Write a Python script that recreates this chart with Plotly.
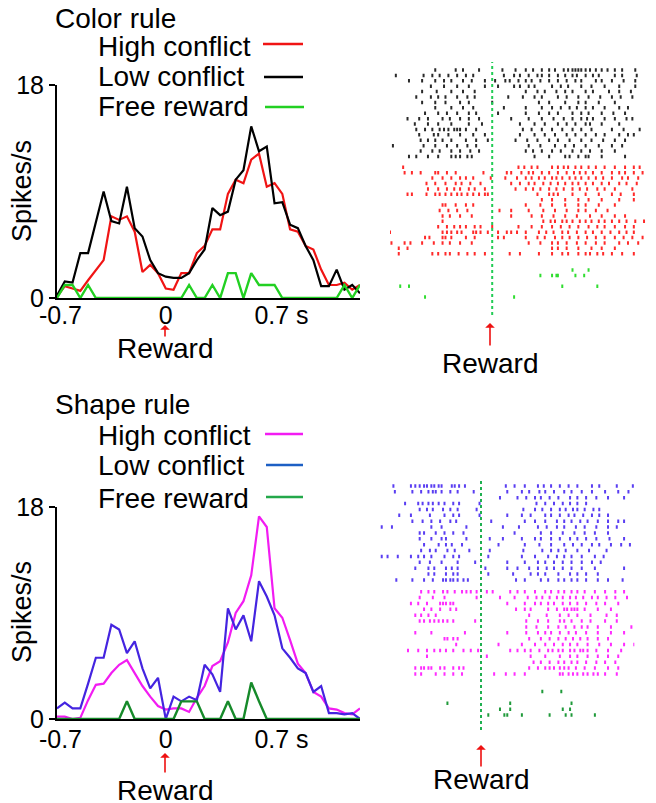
import plotly.graph_objects as go

# The page body adds an 8px margin, so the figure is drawn 8px in from the
# window's top-left corner; pixel layout below is expressed in window pixels.
WIN_W, WIN_H, BODY = 656, 803, 8
W, H = WIN_W - BODY, WIN_H - BODY

# ---------------- PSTH data (spikes/s), 50 ms bins ----------------
time_s = [-0.70, -0.65, -0.60, -0.55, -0.50, -0.45, -0.40, -0.35, -0.30, -0.25,
          -0.20, -0.15, -0.10, -0.05, 0.00, 0.05, 0.10, 0.15, 0.20, 0.25,
          0.30, 0.35, 0.40, 0.45, 0.50, 0.55, 0.60, 0.65, 0.70, 0.75,
          0.80, 0.85, 0.90, 0.95, 1.00, 1.05, 1.10, 1.15, 1.20, 1.25]

color_high = [0.1, 1.0, 0.8, 0.6, 1.5, 2.4, 3.2, 6.9, 6.6, 6.9,
              5.6, 2.2, 2.8, 2.1, 0.8, 0.7, 2.1, 2.1, 3.8, 4.4,
              5.8, 5.8, 8.8, 10.0, 9.7, 11.7, 12.2, 9.4, 9.7, 8.8,
              5.8, 5.6, 4.4, 4.1, 2.4, 1.1, 1.1, 1.3, 0.7, 1.1]
color_low = [0.2, 1.4, 1.3, 3.8, 3.8, 6.5, 9.0, 6.5, 6.3, 9.4,
             5.9, 5.2, 3.2, 2.1, 1.8, 1.7, 1.7, 2.1, 3.2, 4.1,
             7.6, 7.0, 7.3, 10.0, 10.8, 14.5, 12.4, 12.8, 8.0, 8.1,
             6.2, 5.9, 4.4, 3.2, 1.0, 1.0, 2.4, 0.7, 1.1, 0.4]
color_free = [0, 1.1, 1.1, 0, 1.1, 0, 0, 0, 0, 0,
              0, 0, 0, 0, 0, 0, 0, 1.1, 0, 0,
              1.1, 0, 2.1, 2.1, 0, 2.1, 1.1, 1.1, 1.1, 0,
              0, 0, 0, 0, 0, 0, 0, 1.1, 0, 1.1]

shape_high = [0.2, 0.2, 0.0, 0.1, 1.6, 2.9, 3.0, 3.9, 4.6, 5.0,
              3.9, 2.8, 1.9, 1.1, 0.8, 0.9, 0.9, 0.6, 1.8, 2.8,
              4.5, 4.9, 6.5, 9.0, 10.0, 12.2, 17.2, 16.3, 9.4, 8.6,
              6.7, 4.7, 3.9, 2.3, 1.9, 0.9, 0.8, 0.5, 0.4, 0.9]
shape_low = [0.9, 1.4, 0.9, 0.9, 3.0, 5.2, 5.2, 8.0, 7.6, 5.6,
             6.6, 4.3, 2.6, 3.5, 0.0, 1.9, 1.5, 1.9, 1.6, 4.6,
             3.8, 2.3, 9.4, 7.6, 8.8, 6.6, 11.7, 10.4, 8.8, 6.0,
             5.2, 4.3, 3.9, 2.3, 2.8, 0.5, 0.5, 0.4, 0.5, 0.0]
shape_free = [0, 0, 0, 0, 0, 0, 0, 0, 0, 1.5,
              0, 0, 0, 0, 0, 0, 1.5, 1.5, 1.5, 0,
              0, 0, 1.5, 0, 0, 3.1, 1.5, 0, 0, 0,
              0, 0, 0, 0, 0, 0, 0, 0, 0, 0]

x_tick_vals = [-0.7, 0, 0.7]
x_tick_text = ["\u00a0-0.7", "0", "\u00a0\u00a00.7 s"]
y_tick_vals = [0, 18]
y_tick_text = ["0", "18"]

# ---------------- Raster data (spike times in s, one list per trial) ----------------
raster_color_low = [
    [-0.39, -0.25, -0.20, -0.09, 0.07, 0.16, 0.23, 0.28, 0.34, 0.39, 0.43, 0.49, 0.52, 0.55, 0.57, 0.59, 0.61, 0.64, 0.67, 0.71, 0.75, 0.79, 0.84, 0.89, 0.98],
    [-0.66, -0.47, -0.41, -0.36, -0.30, -0.24, -0.18, -0.13, 0.08, 0.15, 0.19, 0.25, 0.31, 0.34, 0.39, 0.45, 0.50, 0.55, 0.58, 0.64, 0.69, 0.73, 0.84, 0.89, 0.99],
    [-0.57, -0.48, -0.39, -0.33, -0.28, -0.20, -0.14, -0.05, 0.02, 0.09, 0.12, 0.18, 0.23, 0.27, 0.33, 0.39, 0.45, 0.51, 0.57, 0.61, 0.71, 0.75, 0.82, 0.90, 0.98],
    [-0.42, -0.33, -0.24, -0.16, -0.05, 0.04, 0.15, 0.19, 0.25, 0.29, 0.41, 0.47, 0.52, 0.61, 0.68, 0.77, 0.87, 0.98],
    [-0.48, -0.38, -0.28, -0.20, -0.12, 0.23, 0.31, 0.36, 0.44, 0.50, 0.55, 0.64, 0.69, 0.80, 0.87, 0.95],
    [-0.52, -0.42, -0.37, -0.32, -0.24, -0.17, -0.12, 0.11, 0.21, 0.29, 0.34, 0.45, 0.51, 0.59, 0.66, 0.74, 0.82, 0.88, 0.96],
    [-0.48, -0.39, -0.32, -0.22, -0.16, 0.00, 0.32, 0.39, 0.50, 0.59, 0.64, 0.73, 0.84],
    [-0.39, -0.28, -0.20, -0.13, 0.08, 0.23, 0.34, 0.41, 0.47, 0.53, 0.58, 0.64, 0.69, 0.77, 0.87, 0.93],
    [-0.46, -0.37, -0.31, -0.24, -0.16, -0.11, 0.04, 0.23, 0.32, 0.39, 0.45, 0.55, 0.61, 0.66, 0.75, 0.83, 0.91],
    [-0.58, -0.50, -0.44, -0.34, -0.29, -0.22, -0.16, -0.09, 0.13, 0.25, 0.34, 0.42, 0.49, 0.55, 0.61, 0.65, 0.69, 0.77, 0.84, 0.92, 0.96],
    [-0.53, -0.44, -0.37, -0.28, -0.16, -0.07, 0.19, 0.29, 0.36, 0.45, 0.51, 0.57, 0.64, 0.67, 0.75, 0.87],
    [-0.52, -0.46, -0.41, -0.36, -0.33, -0.30, -0.26, -0.24, -0.22, -0.18, -0.11, 0.21, 0.27, 0.34, 0.41, 0.48, 0.55, 0.61, 0.68, 0.82, 0.90, 1.01],
    [-0.50, -0.40, -0.37, -0.30, -0.22, -0.13, -0.05, 0.19, 0.29, 0.36, 0.43, 0.51, 0.57, 0.64, 0.71, 0.77, 0.87, 0.93, 0.97],
    [-0.49, -0.44, -0.39, -0.34, -0.28, -0.18, -0.11, -0.03, 0.16, 0.24, 0.31, 0.39, 0.45, 0.53, 0.61, 0.68, 0.76, 0.84, 0.91],
    [-0.68, -0.47, -0.39, -0.31, -0.24, -0.17, -0.11, 0.25, 0.33, 0.43, 0.50, 0.56, 0.64, 0.73, 0.82, 0.89],
    [-0.49, -0.41, -0.36, -0.28, -0.22, -0.15, -0.09, 0.23, 0.28, 0.34, 0.41, 0.47, 0.55, 0.61, 0.67, 0.75, 0.84],
    [-0.57, -0.52, -0.44, -0.37, -0.28, -0.25, -0.22, -0.17, -0.14, 0.29, 0.39, 0.50, 0.53, 0.59, 0.64, 0.66, 0.75, 0.91],
]
raster_color_high = [
    [-0.61, 0.18, 0.22, 0.27, 0.31, 0.41, 0.45, 0.49, 0.52, 0.57, 0.61, 0.66, 0.71, 0.77, 0.84, 0.91, 0.97, 1.01],
    [-0.60, -0.55, -0.49, -0.39, -0.37, -0.31, -0.25, -0.06, 0.10, 0.13, 0.20, 0.25, 0.28, 0.34, 0.39, 0.45, 0.51, 0.56, 0.60, 0.64, 0.69, 0.75, 0.82, 0.87, 0.91, 0.97, 1.03],
    [-0.41, -0.34, -0.28, -0.22, -0.18, -0.13, -0.01, 0.09, 0.17, 0.23, 0.27, 0.32, 0.36, 0.41, 0.44, 0.48, 0.53, 0.57, 0.61, 0.66, 0.71, 0.76, 0.82, 0.89, 0.93, 1.00],
    [-0.45, -0.39, -0.32, -0.25, -0.21, -0.15, -0.08, 0.13, 0.19, 0.25, 0.29, 0.35, 0.40, 0.45, 0.50, 0.55, 0.59, 0.64, 0.69, 0.75, 0.80, 0.87, 0.92, 0.99],
    [-0.44, -0.37, -0.31, -0.26, -0.22, -0.16, -0.12, -0.05, 0.16, 0.23, 0.28, 0.33, 0.39, 0.44, 0.49, 0.55, 0.60, 0.65, 0.72, 0.77, 0.84, 0.96],
    [-0.58, -0.55, -0.45, -0.39, -0.36, -0.32, -0.28, -0.24, -0.21, -0.17, -0.13, -0.09, -0.05, -0.03, 0.31, 0.39, 0.42, 0.45, 0.55, 0.64, 0.73, 0.82, 0.88, 0.97],
    [0.34, 0.41, 0.50, 0.59, 0.66, 0.75, 0.87, 0.97],
    [-0.34, -0.32, -0.25, -0.18, -0.13, 0.23, 0.33, 0.41, 0.50, 0.59, 0.64, 0.73, 0.84],
    [-0.36, -0.30, -0.24, -0.17, 0.05, 0.13, 0.25, 0.35, 0.43, 0.51, 0.59, 0.64, 0.71, 0.79],
    [-0.34, -0.29, -0.22, -0.14, 0.13, 0.27, 0.34, 0.42, 0.50, 0.58, 0.67, 0.75, 0.84, 0.91],
    [-0.34, 0.35, 0.40, 0.43, 0.48, 0.51, 0.55, 0.60, 0.64, 0.68, 0.73, 0.77, 0.82, 0.87, 0.92, 0.98, 1.04],
    [-0.37, -0.31, -0.26, -0.22, -0.18, -0.12, -0.08, 0.00, 0.18, 0.27, 0.34, 0.41, 0.47, 0.53, 0.59, 0.66, 0.72, 0.77, 0.84, 0.91, 0.97],
    [-0.70, -0.34, -0.31, -0.28, -0.24, -0.21, -0.13, -0.11, -0.08, -0.03, 0.04, 0.10, 0.13, 0.17, 0.23, 0.32, 0.37, 0.42, 0.48, 0.52, 0.58, 0.64, 0.69, 0.75, 0.81, 0.87, 0.92, 0.97],
    [-0.46, -0.43, -0.34, -0.32, -0.28, -0.18, -0.12, 0.04, 0.08, 0.23, 0.31, 0.36, 0.43, 0.48, 0.53, 0.59, 0.65, 0.71, 0.77, 0.84, 0.90, 0.96, 1.03],
    [-0.69, -0.60, -0.56, -0.48, -0.40, -0.34, -0.29, -0.22, -0.14, 0.25, 0.33, 0.41, 0.45, 0.51, 0.58, 0.64, 0.71, 0.77, 0.87, 0.93, 1.00],
    [-0.64, -0.58, 0.41, 0.45, 0.51, 0.59, 0.68, 0.75, 0.84],
    [-0.64, -0.41, -0.37, -0.32, -0.29, -0.23, -0.17, -0.12, -0.05, 0.12, 0.19, 0.32, 0.41, 0.48, 0.52, 0.59, 0.64, 0.67, 0.72, 0.76, 0.82, 0.89, 0.97],
]
raster_color_free = [
    [0.55, 0.66],
    [0.33, 0.41, 0.44, 0.45, 0.57, 0.63],
    [],
    [-0.63, -0.57, 0.48, 0.72],
    [],
    [-0.46, 0.15],
]

raster_shape_low = [
    [-0.60, -0.48, -0.45, -0.42, -0.39, -0.37, -0.34, -0.32, -0.29, -0.27, -0.20, -0.18, -0.15, -0.11, 0.17, 0.23, 0.30, 0.39, 0.43, 0.48, 0.54, 0.60, 0.66, 0.76, 0.81, 0.93, 1.04],
    [-0.59, -0.47, -0.41, -0.36, -0.33, -0.31, -0.27, -0.21, -0.16, -0.05, 0.18, 0.28, 0.33, 0.40, 0.44, 0.50, 0.57, 0.62, 0.69, 0.76, 0.85, 0.94, 1.01],
    [0.13, 0.25, 0.31, 0.37, 0.41, 0.47, 0.53, 0.61, 0.66, 0.72, 0.79, 0.87, 0.98],
    [-0.52, -0.43, -0.40, -0.36, -0.33, -0.29, -0.25, -0.19, -0.15, -0.01, 0.38, 0.44, 0.50, 0.56, 0.61, 0.66, 0.72],
    [-0.42, -0.37, -0.33, -0.26, -0.21, -0.16, -0.03, 0.29, 0.37, 0.42, 0.48, 0.54, 0.58, 0.63, 0.66, 0.71, 0.77, 0.81],
    [-0.56, -0.48, -0.35, -0.25, -0.19, -0.15, -0.01, 0.18, 0.28, 0.34, 0.44, 0.48, 0.54, 0.60, 0.64, 0.70, 0.76, 0.81, 0.87],
    [-0.47, -0.40, -0.34, -0.28, -0.21, -0.17, 0.07, 0.30, 0.37, 0.44, 0.52, 0.57, 0.62, 0.68, 0.73, 0.80, 0.87, 0.94, 0.98],
    [-0.68, -0.61, -0.34, -0.27, -0.10, 0.15, 0.26, 0.39, 0.45, 0.52, 0.57, 0.65, 0.71, 0.79, 0.87, 0.93],
    [-0.42, -0.39, -0.31, -0.25, -0.19, -0.12, 0.23, 0.41, 0.48, 0.56, 0.64, 0.71, 0.78, 0.87],
    [-0.42, -0.34, -0.27, -0.24, -0.10, 0.06, 0.15, 0.28, 0.37, 0.41, 0.48, 0.54, 0.61, 0.66, 0.72, 0.79, 0.88, 0.98, 1.06],
    [-0.39, -0.29, -0.24, -0.20, -0.13, 0.12, 0.30, 0.40, 0.48, 0.57, 0.63, 0.69, 0.76, 0.81, 0.89, 0.96, 1.02],
    [-0.41, -0.35, -0.31, -0.23, -0.18, -0.08, 0.06, 0.29, 0.42, 0.48, 0.53, 0.58, 0.66, 0.74, 0.86],
    [-0.68, -0.64, -0.57, -0.48, -0.43, -0.39, -0.34, -0.25, -0.19, -0.15, 0.05, 0.28, 0.37, 0.46, 0.52, 0.57, 0.62, 0.69, 0.78, 0.84],
    [-0.42, -0.35, -0.27, -0.16, -0.04, 0.18, 0.30, 0.39, 0.44, 0.50, 0.56, 0.62, 0.69, 0.76, 0.82],
    [-0.45, -0.36, -0.32, -0.24, -0.20, -0.16, 0.03, 0.18, 0.25, 0.33, 0.39, 0.45, 0.50, 0.56, 0.62, 0.69, 0.78, 0.98],
    [-0.36, -0.32, -0.24, -0.19, -0.16, 0.05, 0.22, 0.34, 0.39, 0.44, 0.53, 0.61, 0.66, 0.72, 0.80],
    [-0.58, -0.47, -0.39, -0.33, -0.26, -0.24, -0.21, -0.19, -0.16, -0.12, -0.09, 0.24, 0.30, 0.41, 0.46, 0.53, 0.57, 0.62, 0.66, 0.72, 0.80, 0.87, 0.97],
]
raster_shape_high = [
    [-0.41, -0.36, -0.32, -0.26, -0.23, -0.18, -0.13, -0.10, -0.07, -0.03, 0.04, 0.08, 0.20, 0.25, 0.30, 0.37, 0.44, 0.48, 0.53, 0.57, 0.62, 0.66, 0.71, 0.78, 0.85, 0.92, 0.98],
    [-0.42, -0.33, -0.25, -0.03, 0.13, 0.23, 0.32, 0.38, 0.42, 0.47, 0.52, 0.56, 0.61, 0.65, 0.70, 0.76, 0.80, 0.86, 0.92, 1.00],
    [-0.48, -0.43, -0.37, -0.28, -0.26, -0.24, -0.21, -0.19, 0.18, 0.30, 0.37, 0.41, 0.46, 0.50, 0.56, 0.61, 0.66, 0.72, 0.79, 0.85, 0.94, 1.06],
    [-0.39, -0.34, -0.28, -0.21, -0.17, 0.24, 0.30, 0.34, 0.46, 0.52, 0.57, 0.59, 0.62, 0.64, 0.66, 0.71, 0.80, 0.89],
    [-0.45, -0.41, -0.36, -0.31, 0.33, 0.45, 0.54, 0.60, 0.66, 0.75, 0.86, 0.93],
    [-0.42, -0.39, -0.35, -0.32, -0.29, -0.26, -0.23, -0.19, -0.04, 0.31, 0.39, 0.46, 0.54, 0.57, 0.62, 0.69, 0.75, 0.85, 0.93],
    [0.31, 0.38, 0.46, 0.53, 0.58, 0.64, 0.69, 0.73, 0.80, 0.89, 1.03],
    [-0.45, -0.34, -0.11, 0.18, 0.31, 0.39, 0.44, 0.48, 0.54, 0.60, 0.65, 0.72, 0.80, 0.89, 0.98],
    [-0.25, -0.23, -0.19, -0.16, 0.33, 0.41, 0.47, 0.53, 0.58, 0.63, 0.68, 0.73, 0.80, 0.87],
    [-0.17, 0.12, 0.28, 0.37, 0.44, 0.50, 0.56, 0.61, 0.66, 0.73, 0.81, 0.89, 0.98, 1.05],
    [-0.50, -0.43, -0.37, -0.32, -0.28, -0.24, -0.19, -0.12, -0.07, -0.02, 0.20, 0.25, 0.30, 0.34, 0.40, 0.46, 0.49, 0.53, 0.56, 0.61, 0.64, 0.68, 0.70, 0.73, 0.79, 0.87, 0.96],
    [-0.37, 0.04, 0.34, 0.44, 0.54, 0.61, 0.66, 0.73, 0.80, 0.87, 0.94],
    [0.36, 0.41, 0.47, 0.53, 0.57, 0.62, 0.66, 0.72, 0.79, 0.85, 0.92],
    [-0.45, -0.41, -0.39, -0.36, -0.34, -0.28, -0.25, -0.19, -0.15, -0.12, 0.33, 0.39, 0.44, 0.47, 0.50, 0.54, 0.57, 0.60, 0.65, 0.71, 0.78, 0.87, 0.94],
    [-0.45, -0.41, -0.31, -0.25, -0.19, -0.13, 0.09, 0.17, 0.23, 0.30, 0.54, 0.56, 0.60, 0.63, 0.66, 0.70, 0.73, 0.77, 0.80, 0.85, 0.93],
]
raster_shape_free = [
    [],
    [0.42, 0.55],
    [],
    [-0.23, 0.20, 0.62],
    [0.13, 0.20, 0.56, 0.61],
    [0.05, 0.16, 0.18, 0.28, 0.47, 0.58, 0.62, 0.78],
]

# ---------------- colours ----------------
C_RED, C_BLACK, C_GREEN = "#f01414", "#000000", "#22d022"
C_MAG, C_BLUE, C_DGREEN = "#f21cf2", "#4424e0", "#168a2a"
C_BLUE_LEG, C_DGREEN_LEG = "#1d5fc4", "#23a84a"
R_BLACK, R_RED, R_GREEN = "#2a2a2a", "#ff2a2a", "#30dd30"
R_BLUE, R_MAG, R_DGREEN = "#5a3ef2", "#ff2cff", "#1f9a3a"
FONT = "Liberation Sans, Arial, sans-serif"


def px(x):
    return (x - BODY) / W


def py(y):
    return 1 - (y - BODY) / H


fig = go.Figure()


def add_psth(values, color, xa, ya, width=2.2):
    fig.add_trace(go.Scatter(x=time_s, y=values, mode="lines", xaxis=xa, yaxis=ya,
                             line=dict(color=color, width=width), cliponaxis=False,
                             hoverinfo="skip", showlegend=False))


add_psth(color_high, C_RED, "x", "y")
add_psth(color_low, C_BLACK, "x", "y")
add_psth(color_free, C_GREEN, "x", "y", 2.4)
add_psth(shape_high, C_MAG, "x3", "y3")
add_psth(shape_low, C_BLUE, "x3", "y3")
add_psth(shape_free, C_DGREEN, "x3", "y3", 2.4)


def add_raster(rows, first_row, color, xa, ya):
    xs, ys = [], []
    for i, row in enumerate(rows):
        for t in row:
            xs.append(t)
            ys.append(first_row + i)
    fig.add_trace(go.Scatter(x=xs, y=ys, mode="markers", xaxis=xa, yaxis=ya,
                             marker=dict(symbol="line-ns", size=2.5,
                                         line=dict(width=2, color=color)),
                             hoverinfo="skip", showlegend=False))


# top raster: low, gap, high, gap x2, free
top_r1 = len(raster_color_low) + 1
top_r2 = top_r1 + len(raster_color_high) + 2
top_last = top_r2 + len(raster_color_free) - 1
add_raster(raster_color_low, 0, R_BLACK, "x2", "y2")
add_raster(raster_color_high, top_r1, R_RED, "x2", "y2")
add_raster(raster_color_free, top_r2, R_GREEN, "x2", "y2")

bot_r1 = len(raster_shape_low) + 1
bot_r2 = bot_r1 + len(raster_shape_high) + 1
bot_last = bot_r2 + len(raster_shape_free) - 1
add_raster(raster_shape_low, 0, R_BLUE, "x4", "y4")
add_raster(raster_shape_high, bot_r1, R_MAG, "x4", "y4")
add_raster(raster_shape_free, bot_r2, R_DGREEN, "x4", "y4")

# raster vertical pixel geometry: first row / last row / line extent
top_sp = (297 - 70) / top_last
bot_sp = (715 - 486) / bot_last

psth_x = dict(range=[-0.7, 1.25], domain=[px(57), px(360)], showline=True, linewidth=2,
              linecolor="black", showgrid=False, zeroline=False, tickvals=x_tick_vals,
              ticktext=x_tick_text, ticks="",
              tickfont=dict(size=25, color="black", family=FONT),
              layer="below traces", fixedrange=True, automargin=False)
psth_y = dict(range=[0, 18], showline=True, linewidth=2, linecolor="black", showgrid=False,
              zeroline=False, tickvals=y_tick_vals, ticktext=y_tick_text, ticks="outside",
              ticklen=6, tickwidth=2, tickcolor="black",
              tickfont=dict(size=25, color="black", family=FONT), layer="below traces",
              fixedrange=True, automargin=False)
hidden = dict(visible=False, automargin=False, fixedrange=True)

fig.update_layout(
    width=W, height=H, margin=dict(l=0, r=0, t=0, b=0, pad=0, autoexpand=False),
    paper_bgcolor="white", plot_bgcolor="white", showlegend=False,
    font=dict(family=FONT, color="black"),
    xaxis=dict(psth_x, anchor="y", ticklabelstandoff=-6),
    yaxis=dict(psth_y, anchor="x", domain=[py(298), py(85)]),
    xaxis3=dict(psth_x, anchor="y3", ticklabelstandoff=-3),
    yaxis3=dict(psth_y, anchor="x3", domain=[py(719), py(507)]),
    xaxis2=dict(hidden, range=[-0.7, 1.05], domain=[px(390), px(645.5)], anchor="y2"),
    yaxis2=dict(hidden, range=[top_last + (315 - 297) / top_sp, -(70 - 62) / top_sp],
                domain=[py(315), py(62)], anchor="x2"),
    xaxis4=dict(hidden, range=[-0.7, 1.05], domain=[px(378.8), px(634.3)], anchor="y4"),
    yaxis4=dict(hidden, range=[bot_last + (730 - 715) / bot_sp, -(486 - 478) / bot_sp],
                domain=[py(730), py(478)], anchor="x4"),
)

# reward lines in rasters
fig.add_shape(type="line", xref="x2", yref="y2 domain", x0=0, x1=0, y0=0, y1=1,
              line=dict(color="#22cc55", width=2, dash="dot"))
fig.add_shape(type="line", xref="x4", yref="y4 domain", x0=0, x1=0, y0=0, y1=1,
              line=dict(color="#1fb050", width=2, dash="dot"))

ann = []


def text(x, y, s, size=28, xanchor="left", angle=0):
    ann.append(dict(x=px(x), y=py(y), xref="paper", yref="paper", text=s, showarrow=False,
                    xanchor=xanchor, yanchor="middle", textangle=angle,
                    font=dict(size=size, color="black", family=FONT)))


def legend_line(x0, x1, y, color):
    fig.add_shape(type="line", xref="paper", yref="paper", x0=px(x0), x1=px(x1),
                  y0=py(y), y1=py(y), line=dict(color=color, width=2.5))


# titles & legends
text(53, 19, "Color rule")
text(96, 47, "High conflict")
text(96, 77, "Low conflict")
text(96, 107, "Free reward")
legend_line(263, 303, 44, C_RED)
legend_line(264, 303, 77, C_BLACK)
legend_line(265, 304, 107, C_GREEN)

text(53, 404, "Shape rule")
text(96, 435, "High conflict")
text(96, 465, "Low conflict")
text(96, 498, "Free reward")
legend_line(265, 303, 434, C_MAG)
legend_line(266, 303, 465, C_BLUE_LEG)
legend_line(266, 303, 497, C_DGREEN_LEG)

# y axis titles
text(22, 191, "Spikes/s", size=27, xanchor="center", angle=-90)
text(22, 612, "Spikes/s", size=27, xanchor="center", angle=-90)


def reward(x, head, tail, ty):
    ann.append(dict(x=px(x), y=py(head), xref="paper", yref="paper", text="", showarrow=True,
                    ax=0, ay=tail - head, axref="pixel", ayref="pixel", arrowhead=1,
                    arrowsize=1, arrowwidth=1.6, arrowcolor="#ee1111"))
    text(x, ty, "Reward", xanchor="center")


reward(165, 325, 338, 348)
reward(490, 323, 347, 363)
reward(165, 753, 774, 790)
reward(481, 745, 768, 779)

fig.update_layout(annotations=ann)

fig.write_html("out.html")
